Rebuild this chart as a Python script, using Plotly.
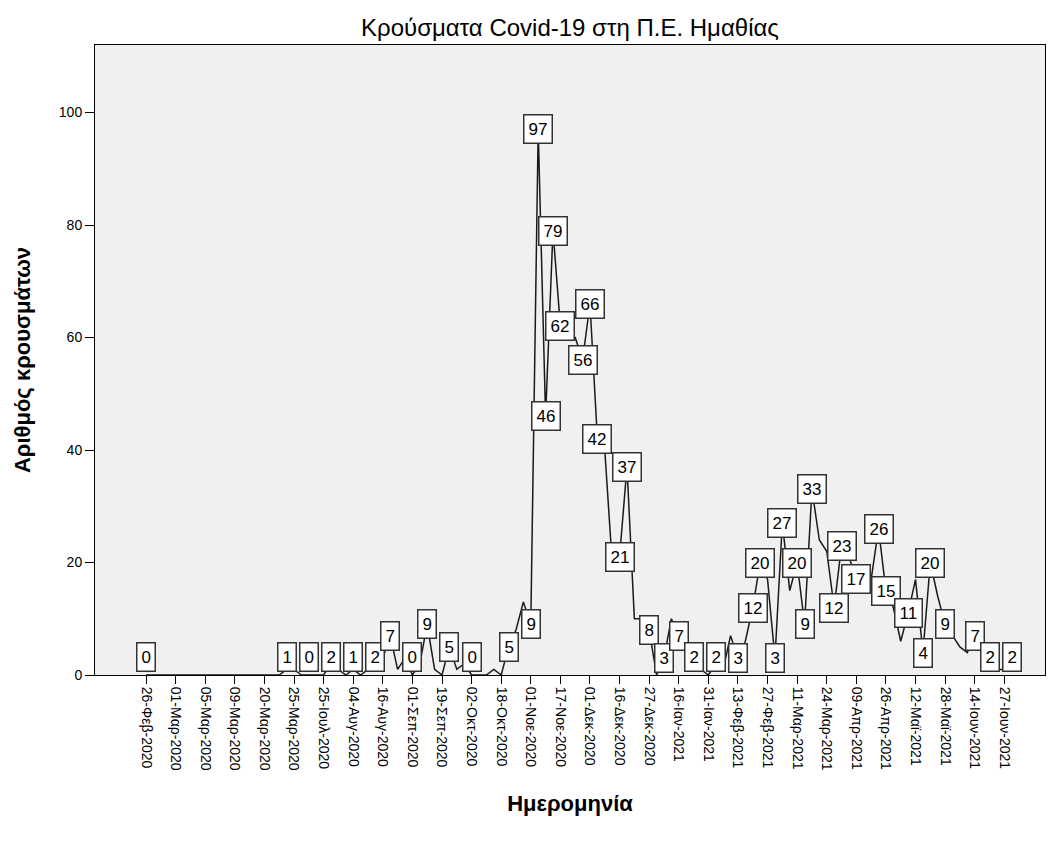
import plotly.graph_objects as go

# Ημερομηνίες που εμφανίζονται στον άξονα (κάθε 4η κατηγορία)
tick_dates = [
    '26-Φεβ-2020', '01-Μαρ-2020', '05-Μαρ-2020', '09-Μαρ-2020', '20-Μαρ-2020',
    '25-Μαρ-2020', '25-Ιουλ-2020', '04-Αυγ-2020', '16-Αυγ-2020', '01-Σεπ-2020',
    '19-Σεπ-2020', '02-Οκτ-2020', '18-Οκτ-2020', '01-Νοε-2020', '17-Νοε-2020',
    '01-Δεκ-2020', '16-Δεκ-2020', '27-Δεκ-2020', '16-Ιαν-2021', '31-Ιαν-2021',
    '13-Φεβ-2021', '27-Φεβ-2021', '11-Μαρ-2021', '24-Μαρ-2021', '09-Απρ-2021',
    '26-Απρ-2021', '12-Μαϊ-2021', '28-Μαϊ-2021', '14-Ιουν-2021', '27-Ιουν-2021',
]

# Κρούσματα ανά ημερομηνία αναφοράς (με τη σειρά των κατηγοριών)
cases = [
    0, 0, 0, 0, 0, 0, 0, 0, 0, 0, 0, 0, 0, 0, 0, 0, 0, 0, 0,
    1, 1, 0, 0, 0, 0, 2, 1, 0, 1, 0, 1, 2, 3, 7, 1, 3, 0, 2, 9,
    1, 0, 5, 1, 2, 0, 0, 0, 1, 0, 5, 8, 13, 9,
    97, 46, 79, 62, 61, 60, 56, 66, 42, 40, 20, 21, 37, 10, 10, 8,
    0, 3, 10, 7, 4, 2, 1, 0, 2, 1, 7, 3, 6, 12, 20, 17, 3, 27,
    15, 20, 9, 33, 24, 22, 12, 23, 21, 17, 17, 17, 26, 15, 12, 6,
    11, 17, 4, 20, 14, 9, 7, 5, 4, 7, 4, 2, 1, 1, 2,
]

# Σημεία που έχουν ετικέτα τιμής
labelled = [
    0, 19, 22, 25, 28, 31, 33, 36, 38, 41, 44, 49, 52, 53, 54, 55, 56, 59,
    60, 61, 64, 65, 68, 70, 72, 74, 77, 80, 82, 83, 85, 86, 88, 89, 90, 93,
    94, 96, 99, 100, 103, 105, 106, 108, 112, 114, 117,
]

FONT = 'Arial, Liberation Sans, sans-serif'

x = list(range(len(cases)))
tick_pos = list(range(0, len(tick_dates) * 4, 4))

fig = go.Figure(go.Scatter(
    x=x,
    y=cases,
    mode='lines',
    line=dict(color='#1a1a1a', width=1.5),
    hoverinfo='skip',
))

for i in labelled:
    v = cases[i]
    low = v <= 2
    fig.add_annotation(
        x=i, y=0 if low else v,
        yanchor='bottom' if low else 'middle',
        yshift=3 if low else 0,
        text=str(v),
        showarrow=False,
        bgcolor='white',
        bordercolor='#333333',
        borderwidth=1.5,
        borderpad=4,
        font=dict(family=FONT, size=17, color='black'),
    )

fig.update_layout(
    width=1049,
    height=847,
    paper_bgcolor='white',
    plot_bgcolor='#F0F0F0',
    showlegend=False,
    font=dict(family=FONT, color='black'),
    margin=dict(l=95, r=4, t=45, b=172),
    title=dict(
        text='Κρούσματα Covid-19 στη Π.Ε. Ημαθίας',
        x=0.5, xref='paper', xanchor='center',
        y=1 - 28 / 847, yref='container', yanchor='middle',
        font=dict(family=FONT, size=24, color='black'),
    ),
    xaxis=dict(
        range=[-6.9, 121.5],
        tickvals=tick_pos,
        ticktext=tick_dates,
        tickangle=90,
        ticks='outside', ticklen=8, tickcolor='black', tickwidth=1,
        tickfont=dict(size=14),
        showline=True, linecolor='black', linewidth=1, mirror=True,
        showgrid=False, zeroline=False,
        title=dict(text='<b>Ημερομηνία</b>', font=dict(size=22), standoff=25),
    ),
    yaxis=dict(
        range=[0, 112],
        tickvals=[0, 20, 40, 60, 80, 100],
        ticks='outside', ticklen=9, tickcolor='black', tickwidth=1,
        tickfont=dict(size=14),
        showline=True, linecolor='black', linewidth=1, mirror=True,
        showgrid=False, zeroline=False,
        title=dict(text='<b>Αριθμός κρουσμάτων</b>', font=dict(size=22), standoff=22),
    ),
)

# χωρίς το προεπιλεγμένο περιθώριο της σελίδας και χωρίς modebar
fig.write_html(
    'out.html',
    config={'displayModeBar': False},
    post_script="document.body.style.margin='0';",
)
